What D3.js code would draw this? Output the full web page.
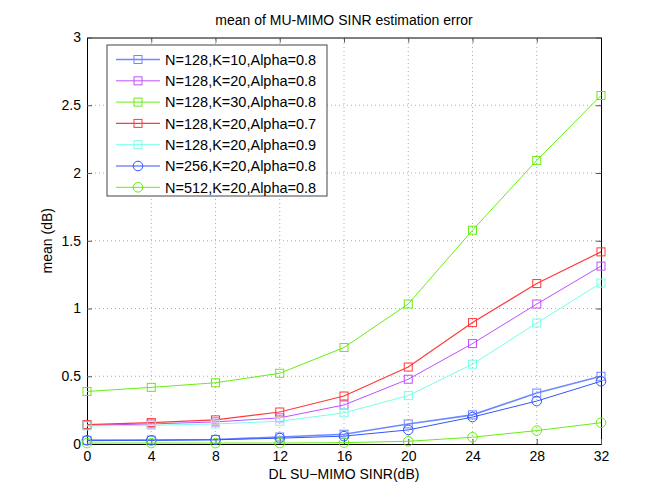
<!DOCTYPE html>
<html>
<head>
<meta charset="utf-8">
<script src="https://cdn.jsdelivr.net/npm/d3@7"></script>
<style>
  body { margin: 0; background: #fff; }
  text { font-family: "Liberation Sans", Arial, sans-serif; }
</style>
</head>
<body>
<div id="chart"></div>
<script>
const snr = [0, 4, 8, 12, 16, 20, 24, 28, 32];
const yTicks = [0, 0.5, 1, 1.5, 2, 2.5, 3];

const n128k10a08 = [0.027, 0.029, 0.033, 0.052, 0.072, 0.148, 0.215, 0.376, 0.5];
const n128k20a08 = [0.138, 0.148, 0.163, 0.193, 0.288, 0.478, 0.741, 1.033, 1.313];
const n128k30a08 = [0.388, 0.418, 0.452, 0.522, 0.712, 1.033, 1.578, 2.093, 2.572];
const n128k20a07 = [0.143, 0.158, 0.178, 0.236, 0.354, 0.568, 0.896, 1.184, 1.418];
const n128k20a09 = [0.133, 0.138, 0.148, 0.168, 0.23, 0.357, 0.589, 0.893, 1.188];
const n256k20a08 = [0.027, 0.027, 0.031, 0.043, 0.058, 0.104, 0.199, 0.317, 0.463];
const n512k20a08 = [0.007, 0.007, 0.007, 0.007, 0.01, 0.02, 0.05, 0.099, 0.157];

const series = [
  { name: 'N=128,K=10,Alpha=0.8', values: n128k10a08, color: '#6f88ff', marker: 'square', lw: 1.6 },
  { name: 'N=128,K=20,Alpha=0.8', values: n128k20a08, color: '#c050ff', marker: 'square', lw: 1 },
  { name: 'N=128,K=30,Alpha=0.8', values: n128k30a08, color: '#66ee11', marker: 'square', lw: 1 },
  { name: 'N=128,K=20,Alpha=0.7', values: n128k20a07, color: '#ff3a3a', marker: 'square', lw: 1.2 },
  { name: 'N=128,K=20,Alpha=0.9', values: n128k20a09, color: '#77ffe8', marker: 'square', lw: 1 },
  { name: 'N=256,K=20,Alpha=0.8', values: n256k20a08, color: '#3355ff', marker: 'circle', lw: 1 },
  { name: 'N=512,K=20,Alpha=0.8', values: n512k20a08, color: '#66ee11', marker: 'circle', lw: 1 }
];

const width = 664;
const height = 499;
const margin = { top: 37.5, bottom: 55, left: 87, right: 63 };

const svg = d3.select('#chart')
  .append('svg')
  .attr('width', width)
  .attr('height', height);

const x = d3.scaleLinear()
  .domain([0, 32])
  .range([margin.left, width - margin.right]);

const y = d3.scaleLinear()
  .domain([0, 3])
  .range([height - margin.bottom, margin.top]);

// grid
const grid = svg.append('g')
  .attr('stroke', '#999')
  .attr('stroke-width', 0.8)
  .attr('stroke-dasharray', '1,3');
grid.selectAll('.gx')
  .data(snr.slice(1, -1))
  .join('line')
  .attr('x1', d => x(d)).attr('x2', d => x(d))
  .attr('y1', y(0)).attr('y2', y(3));
grid.selectAll('.gy')
  .data(yTicks.slice(1, -1))
  .join('line')
  .attr('y1', d => y(d)).attr('y2', d => y(d))
  .attr('x1', x(0)).attr('x2', x(32));

// axes, matlab style: ticks inward on all sides
function xAxis(g) {
  g.attr('transform', `translate(0,${y(0)})`)
    .call(d3.axisBottom(x).tickValues(snr).tickSize(-5).tickPadding(7).tickSizeOuter(0))
    .attr('font-size', '14px');
}
function yAxis(g) {
  g.attr('transform', `translate(${x(0)},0)`)
    .call(d3.axisLeft(y).tickValues(yTicks).tickFormat(d3.format('')).tickSize(-5).tickPadding(6).tickSizeOuter(0))
    .attr('font-size', '14px');
}
function xTop(g) {
  g.attr('transform', `translate(0,${y(3)})`)
    .call(d3.axisTop(x).tickValues(snr).tickSize(-5).tickFormat('').tickSizeOuter(0));
}
function yRight(g) {
  g.attr('transform', `translate(${x(32)},0)`)
    .call(d3.axisRight(y).tickValues(yTicks).tickSize(-5).tickFormat('').tickSizeOuter(0));
}
svg.append('g').call(xTop);
svg.append('g').call(yRight);
svg.append('g').call(xAxis);
svg.append('g').call(yAxis);
svg.selectAll('.domain').attr('stroke', '#000');
svg.selectAll('.tick line').attr('stroke', '#555');
svg.selectAll('.tick text').attr('fill', '#000');

// series
const line = d3.line()
  .x((d, i) => x(snr[i]))
  .y(d => y(d));

function drawMarker(g, type, color, cx, cy) {
  if (type === 'square') {
    g.append('rect')
      .attr('x', cx - 4).attr('y', cy - 4)
      .attr('width', 8).attr('height', 8)
      .attr('fill', 'none').attr('stroke', color).attr('stroke-width', 1);
  } else {
    g.append('circle')
      .attr('cx', cx).attr('cy', cy).attr('r', 4.8)
      .attr('fill', 'none').attr('stroke', color).attr('stroke-width', 1);
  }
}

series.forEach(s => {
  const g = svg.append('g');
  g.append('path')
    .attr('d', line(s.values))
    .attr('fill', 'none')
    .attr('stroke', s.color)
    .attr('stroke-width', s.lw);
  s.values.forEach((v, i) => drawMarker(g, s.marker, s.color, x(snr[i]), y(v)));
});

// legend
const legend = svg.append('g');
legend.append('rect')
  .attr('x', 107).attr('y', 45)
  .attr('width', 220).attr('height', 151)
  .attr('fill', '#fff')
  .attr('stroke', '#444')
  .attr('stroke-width', 1);
series.forEach((s, i) => {
  const ly = 59.5 + i * 21.3;
  legend.append('line')
    .attr('x1', 116).attr('x2', 160)
    .attr('y1', ly).attr('y2', ly)
    .attr('stroke', s.color).attr('stroke-width', s.lw);
  drawMarker(legend, s.marker, s.color, 138, ly);
  legend.append('text')
    .attr('x', 165).attr('y', ly)
    .attr('dy', '0.36em')
    .attr('font-size', '14.5px')
    .text(s.name);
});

// titles
svg.append('text')
  .attr('x', (x(0) + x(32)) / 2).attr('y', 25)
  .attr('text-anchor', 'middle')
  .attr('font-size', '14px')
  .text('mean of MU-MIMO SINR estimation error');

svg.append('text')
  .attr('x', (x(0) + x(32)) / 2).attr('y', 479)
  .attr('text-anchor', 'middle')
  .attr('font-size', '14px')
  .text('DL SU\u2212MIMO SINR(dB)');

svg.append('text')
  .attr('transform', `translate(52,${(y(0) + y(3)) / 2}) rotate(-90)`)
  .attr('text-anchor', 'middle')
  .attr('font-size', '14px')
  .text('mean (dB)');
</script>
</body>
</html>
